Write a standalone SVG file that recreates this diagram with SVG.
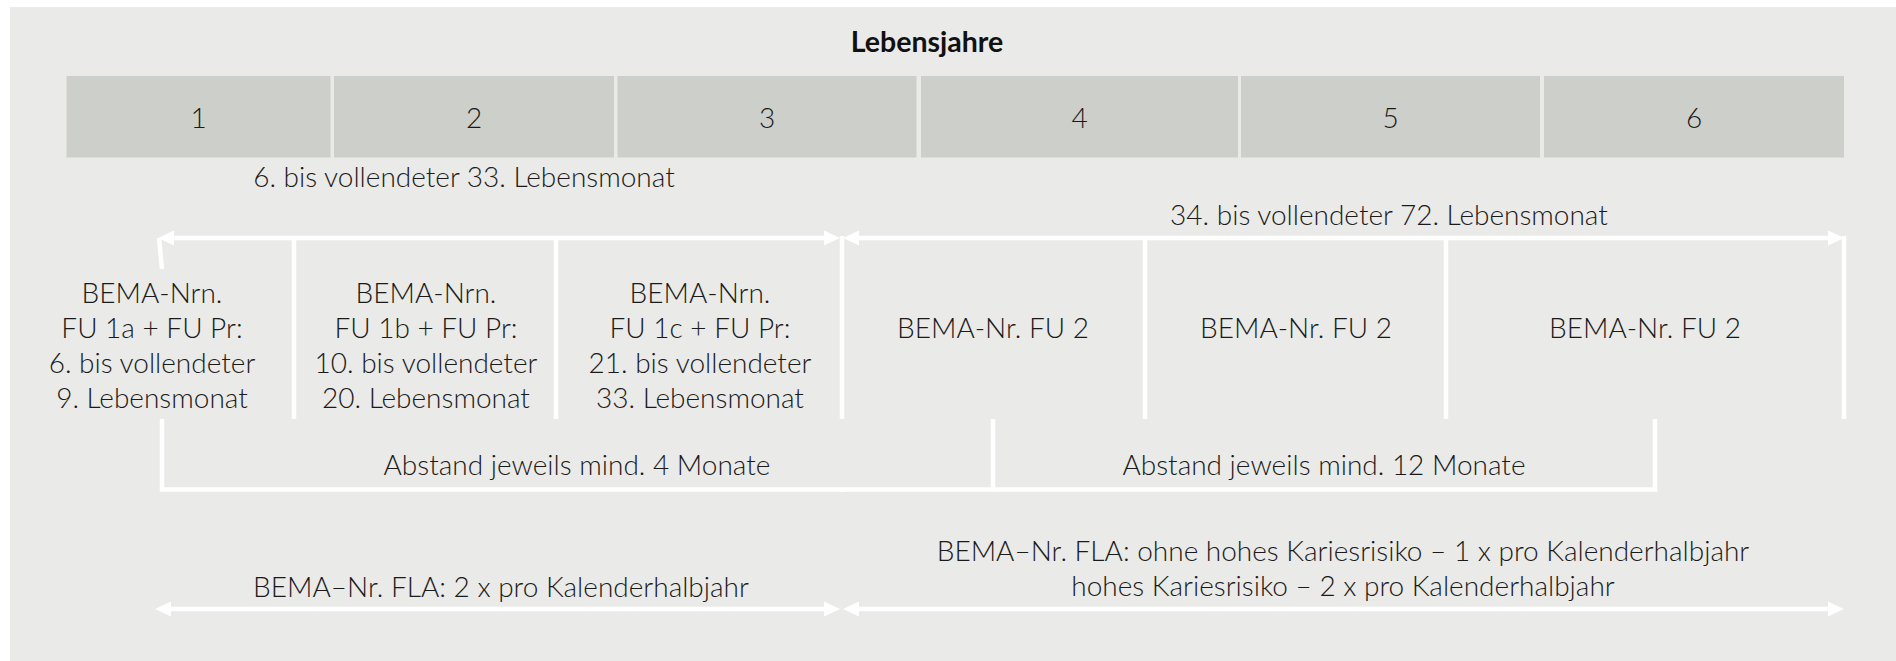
<svg xmlns="http://www.w3.org/2000/svg" width="1896" height="661" viewBox="0 0 1896 661">
<defs>
<style>
.t{font-family:Lato,"Liberation Sans",sans-serif;font-weight:300;font-size:28px;fill:#1a1a1a;text-anchor:middle}
.b{font-weight:700;font-size:28.5px;fill:#111}
.cell{fill:#CDCFCA}
.ln{stroke:#fff;stroke-width:4.5;fill:none}
</style>
<marker id="ah" viewBox="0 0 16 16" markerWidth="16" markerHeight="16" refX="8" refY="8" orient="auto-start-reverse" markerUnits="userSpaceOnUse">
<path d="M0,0.5 L16,8 L0,15.5 Z" fill="#fff"/>
</marker>
</defs>
<rect x="10" y="7" width="1886" height="654" fill="#EAEAE8"/>
<g id="title"><text class="t b" x="927" y="52">Lebensjahre</text></g>
<g id="years">
<g id="y1"><rect class="cell" x="66.5" y="76" width="264" height="81.5"/><text class="t" x="198.5" y="128">1</text></g>
<g id="y2"><rect class="cell" x="334" y="76" width="280" height="81.5"/><text class="t" x="474" y="128">2</text></g>
<g id="y3"><rect class="cell" x="617.5" y="76" width="299" height="81.5"/><text class="t" x="767" y="128">3</text></g>
<g id="y4"><rect class="cell" x="921" y="76" width="317" height="81.5"/><text class="t" x="1079.5" y="128">4</text></g>
<g id="y5"><rect class="cell" x="1241" y="76" width="299" height="81.5"/><text class="t" x="1390.5" y="128">5</text></g>
<g id="y6"><rect class="cell" x="1544" y="76" width="300" height="81.5"/><text class="t" x="1694" y="128">6</text></g>
</g>
<g id="range1"><text class="t" x="464" y="187">6. bis vollendeter 33. Lebensmonat</text></g>
<g id="range2"><text class="t" x="1389" y="225">34. bis vollendeter 72. Lebensmonat</text></g>
<g id="connectors">
<line class="ln" x1="166" y1="238" x2="832" y2="238" marker-start="url(#ah)" marker-end="url(#ah)"/>
<line class="ln" x1="851" y1="238" x2="1836" y2="238" marker-start="url(#ah)" marker-end="url(#ah)"/>
<line class="ln" x1="159" y1="238" x2="162" y2="269"/>
<line class="ln" x1="294" y1="236" x2="294" y2="419"/>
<line class="ln" x1="556" y1="236" x2="556" y2="419"/>
<line class="ln" x1="842" y1="236" x2="842" y2="419"/>
<line class="ln" x1="1145" y1="236" x2="1145" y2="419"/>
<line class="ln" x1="1446" y1="236" x2="1446" y2="419"/>
<line class="ln" x1="1844" y1="236" x2="1844" y2="419"/>
<path class="ln" d="M162,419 V489.5 H1655 V419"/>
<line class="ln" x1="993" y1="419" x2="993" y2="491.5"/>
<line class="ln" x1="842" y1="488" x2="842" y2="492"/>
<line class="ln" x1="163" y1="609" x2="832" y2="609" marker-start="url(#ah)" marker-end="url(#ah)"/>
<line class="ln" x1="851" y1="609" x2="1836" y2="609" marker-start="url(#ah)" marker-end="url(#ah)"/>
</g>
<g id="c1"><text class="t" x="152" y="303">BEMA-Nrn.</text><text class="t" x="152" y="338">FU 1a + FU Pr:</text><text class="t" x="152" y="373">6. bis vollendeter</text><text class="t" x="152" y="408">9. Lebensmonat</text></g>
<g id="c2"><text class="t" x="426" y="303">BEMA-Nrn.</text><text class="t" x="426" y="338">FU 1b + FU Pr:</text><text class="t" x="426" y="373">10. bis vollendeter</text><text class="t" x="426" y="408">20. Lebensmonat</text></g>
<g id="c3"><text class="t" x="700" y="303">BEMA-Nrn.</text><text class="t" x="700" y="338">FU 1c + FU Pr:</text><text class="t" x="700" y="373">21. bis vollendeter</text><text class="t" x="700" y="408">33. Lebensmonat</text></g>
<g id="c4"><text class="t" x="993" y="338">BEMA-Nr. FU 2</text></g>
<g id="c5"><text class="t" x="1296" y="338">BEMA-Nr. FU 2</text></g>
<g id="c6"><text class="t" x="1645" y="338">BEMA-Nr. FU 2</text></g>
<g id="abstand4"><text class="t" x="577" y="475">Abstand jeweils mind. 4 Monate</text></g>
<g id="abstand12"><text class="t" x="1324" y="475">Abstand jeweils mind. 12 Monate</text></g>
<g id="fla1"><text class="t" x="501" y="597">BEMA–Nr. FLA: 2 x pro Kalenderhalbjahr</text></g>
<g id="fla2"><text class="t" x="1343" y="561">BEMA–Nr. FLA: ohne hohes Kariesrisiko – 1 x pro Kalenderhalbjahr</text><text class="t" x="1343" y="596">hohes Kariesrisiko – 2 x pro Kalenderhalbjahr</text></g>
</svg>
